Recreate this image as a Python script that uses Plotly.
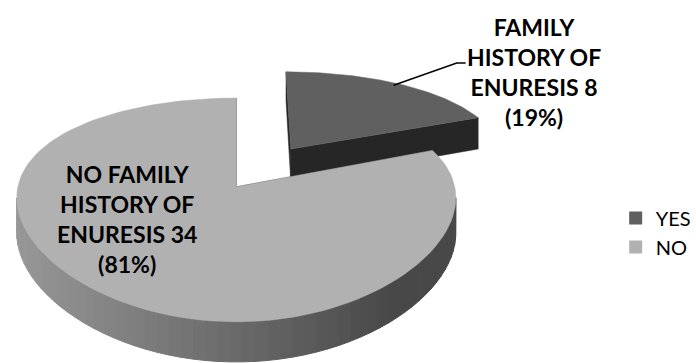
import numpy as np
import plotly.graph_objects as go

# ---------------- data ----------------
categories = ["YES", "NO"]
counts = [8, 34]
label_lines = [["FAMILY", "HISTORY OF", "ENURESIS"],
               ["NO FAMILY", "HISTORY OF", "ENURESIS"]]

# ---------------- style ----------------
top_colors = ["#606060", "#b1b1b1"]
cut_colors = ["#262626", "#3a3a3a"]
explode = [0.46, 0.0]
label_pos = [(538, 72), (128, 219)]

W, H = 696, 363
CX, CY = 238.0, 186.8
GX, QX = 220.0, 0.10
F, D = 945.5, 4.24
PHI = np.radians(28.7)
S, C = np.sin(PHI), np.cos(PHI)
THICK = 0.181


def proj(X, Y, z):
    X = np.atleast_1d(np.asarray(X, float))
    Y = np.atleast_1d(np.asarray(Y, float))
    z = np.atleast_1d(np.asarray(z, float)) * np.ones_like(X)
    sx = CX + GX * X / (1 + QX * Y)
    depth = D + Y * C - z * S
    sy = CY - F * (Y * S + z * C) / depth
    return sx, sy


def poly(fig, xs, ys, color, lw=0.0):
    fig.add_trace(go.Scatter(
        x=list(xs) + [xs[0]], y=list(ys) + [ys[0]], mode="lines", fill="toself",
        fillcolor=color, line=dict(color=color, width=lw),
        hoverinfo="skip", showlegend=False))


fig = go.Figure()
total = sum(counts)
vis_a = np.degrees(np.arccos(-QX))
vis_b = 360 - vis_a

start = 0.0
slices = []
for i, v in enumerate(counts):
    span = 360.0 * v / total
    slices.append((start, start + span))
    start += span

for i, (a0, a1) in enumerate(slices):
    mid = np.radians((a0 + a1) / 2)
    ox, oy = explode[i] * np.sin(mid), explode[i] * np.cos(mid)
    # cut faces
    for ang in (a0, a1):
        t = np.radians(ang)
        Xs = [ox, ox + np.sin(t), ox + np.sin(t), ox]
        Ys = [oy, oy + np.cos(t), oy + np.cos(t), oy]
        Zs = [0, 0, -THICK, -THICK]
        sx, sy = proj(Xs, Ys, Zs)
        poly(fig, sx, sy, cut_colors[i], 0.5)
    # outer walls (front-facing part)
    lo, hi = max(a0, vis_a), min(a1, vis_b)
    if hi > lo:
        n = int(np.ceil((hi - lo) / 3.0))
        edges = np.linspace(lo, hi, n + 1)
        for k in range(n):
            th = np.radians(np.linspace(edges[k], edges[k + 1], 4))
            X = ox + np.sin(th)
            Y = oy + np.cos(th)
            tx, ty = proj(X, Y, 0)
            bx, by = proj(X, Y, -THICK)
            xs = np.concatenate([tx, bx[::-1]])
            ys = np.concatenate([ty, by[::-1]])
            m = tx.mean()
            g = int(72 + 80 * np.clip((400 - m) / 385, 0, 1))
            col = f"rgb({g},{g},{g})"
            poly(fig, xs, ys, col, 1.0)
    # top face
    th = np.radians(np.linspace(a0, a1, 120))
    X = np.concatenate([[ox], ox + np.sin(th)])
    Y = np.concatenate([[oy], oy + np.cos(th)])
    sx, sy = proj(X, Y, 0)
    poly(fig, sx, sy, top_colors[i], 0.5)

# leader line for YES label
a0, a1 = slices[0]
mid = np.radians((a0 + a1) / 2)
ox, oy = explode[0] * np.sin(mid), explode[0] * np.cos(mid)
lx, ly = proj(ox + 0.97 * np.sin(mid), oy + 0.97 * np.cos(mid), 0)
px, py = label_pos[0]
fig.add_trace(go.Scatter(x=[lx[0], px - 78, px - 69], y=[ly[0], py - 9, py - 9],
                         mode="lines", line=dict(color="black", width=1.6),
                         hoverinfo="skip", showlegend=False))

# labels
for i, v in enumerate(counts):
    pct = round(100 * v / total)
    lines = label_lines[i][:-1] + [f"{label_lines[i][-1]} {v}", f"({pct}%)"]
    fig.add_annotation(x=label_pos[i][0], y=label_pos[i][1], xref="x", yref="y",
                       text="<b>" + "<br>".join(lines) + "</b>", showarrow=False,
                       align="center", xanchor="center", yanchor="middle",
                       font=dict(family="Lato", size=23, color="black"))

# legend entries
for i, cat in enumerate(categories):
    fig.add_trace(go.Scatter(x=[None], y=[None], mode="markers", name=cat,
                             marker=dict(symbol="square", size=13, color=top_colors[i]),
                             showlegend=True))

fig.update_layout(
    width=W, height=H, autosize=False,
    margin=dict(l=0, r=0, t=0, b=0),
    paper_bgcolor="white", plot_bgcolor="white",
    xaxis=dict(range=[0, W], visible=False, fixedrange=True),
    yaxis=dict(range=[H, 0], visible=False, fixedrange=True),
    legend=dict(x=0.891, y=0.3595, xanchor="left", yanchor="middle",
                font=dict(family="Lato", size=20, color="black"),
                bgcolor="rgba(0,0,0,0)", tracegroupgap=0),
    showlegend=True,
)

fig.write_html("out.html")
